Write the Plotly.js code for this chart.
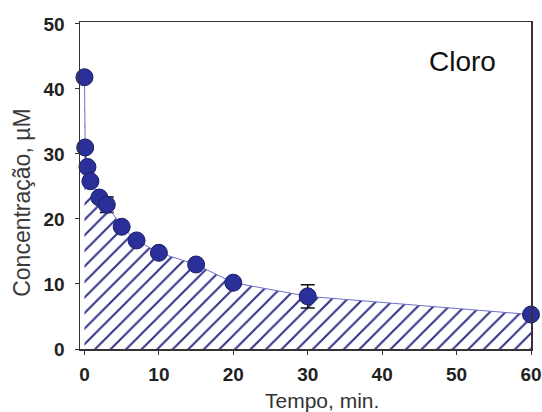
<!DOCTYPE html>
<html>
<head>
<meta charset="utf-8">
<script src="https://cdn.plot.ly/plotly-3.0.1.min.js"></script>
<style>html,body{margin:0;padding:0;background:#fff;}#chart{width:542px;height:412px;}</style>
</head>
<body>
<div id="chart"></div>
<script>
var tempo = [0, 0.1, 0.4, 0.8, 2, 3, 5, 7, 10, 15, 20, 30, 60];
var concentracao = [41.8, 31.0, 28.0, 25.8, 23.3, 22.2, 18.8, 16.7, 14.8, 13.0, 10.2, 8.1, 5.3];
var erro = [0.6, 0.4, 0.4, 0.5, 0.6, 1.2, 0.4, 0.4, 0.4, 0.4, 0.3, 1.8, 0.3];
var xTicks = [0, 10, 20, 30, 40, 50, 60];
var yTicks = [0, 10, 20, 30, 40, 50];

var trace = {
  x: tempo, y: concentracao, type: 'scatter', mode: 'lines+markers',
  fill: 'tozeroy', fillcolor: 'rgba(255,255,255,0)',
  fillpattern: {shape: '/', fgcolor: '#303088', bgcolor: 'rgba(255,255,255,0)', size: 11, solidity: 0.18},
  line: {color: '#7070c8', width: 1},
  marker: {size: 17, color: '#2b2f99', line: {color: '#1a1d66', width: 1}},
  error_y: {type: 'data', array: erro, visible: true, color: '#111', thickness: 1.5, width: 7},
  cliponaxis: false, showlegend: false
};

var tickFont = {size: 19, family: 'Liberation Sans, Arial, sans-serif', color: '#222', weight: 'bold'};

var layout = {
  width: 542, height: 412,
  margin: {l: 80, r: 11, t: 22, b: 63},
  paper_bgcolor: '#fff', plot_bgcolor: '#fff',
  font: {family: 'Liberation Sans, Arial, sans-serif', color: '#222'},
  xaxis: {
    range: [-0.6, 60], tickvals: xTicks, ticktext: xTicks.map(String),
    showgrid: false, zeroline: false, showline: true, mirror: true,
    linecolor: '#333', linewidth: 1.5, ticks: 'outside', ticklen: 4, tickcolor: '#333',
    ticklabelstandoff: 4, ticklabeloverflow: 'allow', tickfont: tickFont
  },
  yaxis: {
    range: [0, 50.3], tickvals: yTicks, ticktext: yTicks.map(String),
    showgrid: false, zeroline: false, showline: true, mirror: true,
    linecolor: '#333', linewidth: 1.5, ticks: 'outside', ticklen: 4, tickcolor: '#333',
    ticklabelstandoff: 6, ticklabeloverflow: 'allow', tickfont: tickFont
  },
  annotations: [
    {text: 'Cloro', xref: 'paper', yref: 'paper', x: 0.849, y: 0.878,
     xanchor: 'center', yanchor: 'middle', showarrow: false,
     font: {size: 28, color: '#111'}},
    {text: 'Tempo, min.', xref: 'paper', yref: 'paper', x: 0.537, y: -0.156,
     xanchor: 'center', yanchor: 'middle', showarrow: false,
     font: {size: 21, color: '#333'}},
    {text: 'Concentração, µM', xref: 'paper', yref: 'paper', x: -0.129, y: 0.4465,
     xanchor: 'center', yanchor: 'middle', textangle: -90, showarrow: false,
     font: {size: 23, color: '#3a3a3a'}}
  ]
};

Plotly.newPlot('chart', [trace], layout, {staticPlot: true, displayModeBar: false});
</script>
</body>
</html>
